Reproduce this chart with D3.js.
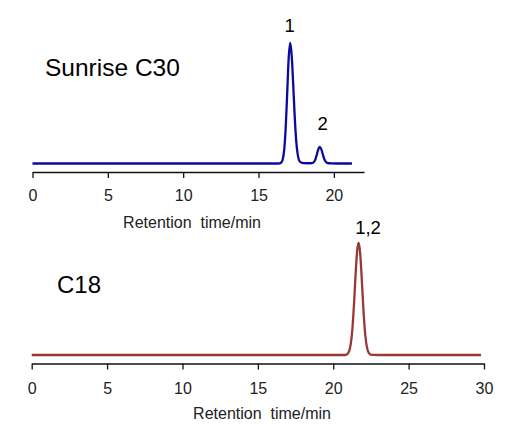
<!DOCTYPE html>
<html>
<head>
<meta charset="utf-8">
<script src="https://cdn.jsdelivr.net/npm/d3@7"></script>
<style>
  html, body { margin: 0; padding: 0; background: #fff; }
  svg { display: block; font-family: "Liberation Sans", Arial, sans-serif; }
  text { white-space: pre; }
</style>
</head>
<body>
<svg id="chart" width="518" height="433"></svg>
<script>
// ---- Data ----
// Sunrise C30 chromatogram: retention time (min) and relative signal
const c30Time = [0, 2, 4, 6, 8, 10, 12, 14, 16, 16.3, 16.4, 16.5, 16.6, 16.7, 16.8, 16.9, 17.0, 17.1, 17.2, 17.3, 17.4, 17.5, 17.6, 17.7, 17.8, 18.0, 18.3, 18.56, 18.66, 18.76, 18.86, 18.96, 19.06, 19.16, 19.26, 19.36, 19.46, 19.56, 19.66, 19.86, 20.2, 20.6, 21.2];
const c30Signal = [0, 0, 0, 0, 0, 0, 0, 0, 0, 0, 0.1, 0.7, 3.1, 10.9, 28.7, 57.5, 87, 100, 90, 66, 39.5, 19, 7.6, 2.4, 1.0, 0.3, 0.2, 0.3, 1.0, 3.0, 6.9, 11.5, 13.7, 11.9, 7.9, 3.9, 1.5, 0.5, 0.2, 0.05, 0, 0, 0];
// C18 chromatogram
const c18Time = [0, 3, 6, 9, 12, 15, 18, 20, 20.7, 20.88, 20.98, 21.08, 21.18, 21.28, 21.38, 21.48, 21.58, 21.68, 21.78, 21.88, 21.98, 22.08, 22.18, 22.28, 22.38, 22.48, 22.66, 23, 25, 27, 29.8];
const c18Signal = [0, 0, 0, 0, 0, 0, 0, 0, 0, 0.4, 1.4, 4.4, 11.4, 24.9, 45.8, 70.7, 91.7, 100, 91.7, 70.7, 45.8, 24.9, 11.4, 4.4, 1.4, 0.4, 0.05, 0, 0, 0, 0];
// Axis ticks and labels
const c30Ticks = [0, 5, 10, 15, 20];
const c18Ticks = [0, 5, 10, 15, 20, 25, 30];
const axisTitle = "Retention  time/min";
const panelNames = ["Sunrise C30", "C18"];
const c30PeakLabels = [{ t: 17.0, v: 100, label: "1" }, { t: 19.16, v: 13.7, label: "2" }];
const c18PeakLabels = [{ t: 21.68, v: 100, label: "1,2" }];

// ---- Drawing ----
const svg = d3.select("#chart");

function panel(cfg) {
  const x = d3.scaleLinear().domain(cfg.xDomain).range(cfg.xRange);
  const y = d3.scaleLinear().domain([0, 100]).range(cfg.yRange);

  const axis = d3.axisBottom(x)
    .tickValues(cfg.ticks)
    .tickFormat(d3.format("d"))
    .tickSize(6)
    .tickSizeOuter(0)
    .tickPadding(cfg.tickPadding);

  const g = svg.append("g").attr("transform", `translate(0,${cfg.axisY})`).call(axis);
  g.select(".domain").attr("stroke", "#111").attr("stroke-width", 1.3);
  g.selectAll(".tick line").attr("stroke", "#111").attr("stroke-width", 1.3);
  g.selectAll(".tick text")
    .attr("fill", "#222")
    .style("font-size", "16px")
    .style("font-family", "'Liberation Sans', Arial, sans-serif");

  svg.append("text")
    .attr("x", cfg.titleX).attr("y", cfg.titleY)
    .attr("text-anchor", "middle")
    .style("font-size", "16px").attr("fill", "#222")
    .text(axisTitle);

  const line = d3.line()
    .x((d, i) => x(cfg.time[i]))
    .y((d, i) => y(cfg.signal[i]))
    .curve(d3.curveMonotoneX);

  svg.append("path")
    .datum(cfg.signal)
    .attr("d", line)
    .attr("fill", "none")
    .attr("stroke", cfg.color)
    .attr("stroke-width", 2.3)
    .attr("stroke-linejoin", "round");

  svg.append("text")
    .attr("x", cfg.nameX).attr("y", cfg.nameY)
    .style("font-size", cfg.nameSize)
    .attr("fill", "#000")
    .text(cfg.name);

  svg.selectAll(null).data(cfg.peaks).enter().append("text")
    .attr("x", (d, i) => x(d.t) + cfg.peakDx[i])
    .attr("y", (d, i) => y(d.v) - cfg.peakGap[i])
    .attr("text-anchor", "middle")
    .style("font-size", "18.5px")
    .attr("fill", "#000")
    .text(d => d.label);
}

panel({
  xDomain: [0, 22], xRange: [32.5, 364], yRange: [163.5, 43],
  axisY: 172, ticks: c30Ticks, tickPadding: 12,
  titleX: 192, titleY: 228,
  time: c30Time, signal: c30Signal, color: "#0b0b9a",
  name: panelNames[0], nameX: 45, nameY: 75.5, nameSize: "24.5px",
  peaks: c30PeakLabels, peakGap: [11, 17], peakDx: [1, 1.5]
});

panel({
  xDomain: [0, 30], xRange: [31.7, 484], yRange: [355, 242.7],
  axisY: 363.5, ticks: c18Ticks, tickPadding: 13,
  titleX: 262, titleY: 418.5,
  time: c18Time, signal: c18Signal, color: "#9a3838",
  name: panelNames[1], nameX: 57, nameY: 292.7, nameSize: "24px",
  peaks: c18PeakLabels, peakGap: [8.5], peakDx: [9.5]
});
</script>
</body>
</html>
